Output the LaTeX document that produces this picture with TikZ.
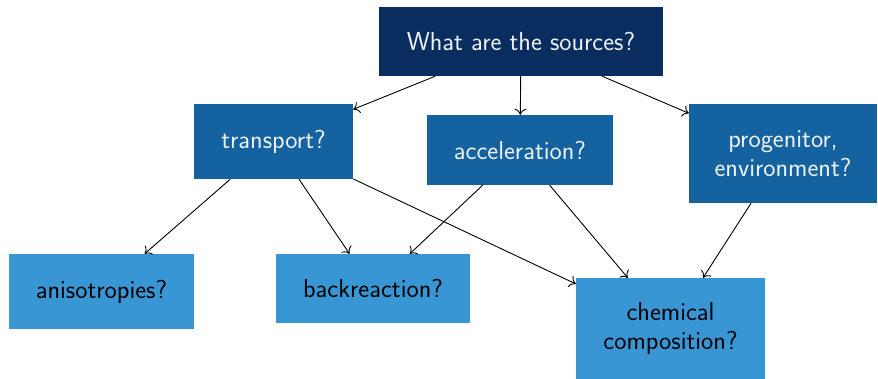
\documentclass[tikz,border=0pt]{standalone}
\usetikzlibrary{arrows.meta}
\definecolor{navy}{HTML}{082D5E}
\definecolor{midblue}{HTML}{1463A0}
\definecolor{lightblue}{HTML}{3896D4}
\definecolor{paletext}{HTML}{EEF2F6}
\begin{document}
\begin{tikzpicture}[x=1pt,y=-1pt,
  box/.style={rectangle,inner sep=0pt,align=center,font=\sffamily\fontsize{26}{29}\selectfont},
  topbox/.style={box,fill=navy,text=paletext},
  midbox/.style={box,fill=midblue,text=paletext},
  leafbox/.style={box,fill=lightblue,text=black},
  link/.style={-{Computer Modern Rightarrow[length=6pt,width=12pt]},line width=0.9pt,black}]
  \useasboundingbox (0,0) rectangle (878,379);
  \node[topbox,minimum width=284pt,minimum height=69pt] (src) at (521,41.5) {What are the sources?};
  \node[midbox,minimum width=159pt,minimum height=75pt] (tra) at (273.5,141.5) {transport?};
  \node[midbox,minimum width=186pt,minimum height=70pt] (acc) at (520,150) {acceleration?};
  \node[midbox,minimum width=188pt,minimum height=99pt] (pro) at (783,153.5) {progenitor,\\environment?};
  \node[leafbox,minimum width=185pt,minimum height=75pt] (ani) at (101.5,291.5) {anisotropies?};
  \node[leafbox,minimum width=194pt,minimum height=69pt] (bac) at (373,288.5) {backreaction?};
  \node[leafbox,minimum width=189pt,minimum height=101pt] (che) at (670.5,328.5) {chemical\\composition?};
  \draw[link] (src) -- (tra);
  \draw[link] (src) -- (acc);
  \draw[link] (src) -- (pro);
  \draw[link] (tra) -- (ani);
  \draw[link] (tra) -- (bac);
  \draw[link] (tra) -- (che);
  \draw[link] (acc) -- (bac);
  \draw[link] (acc) -- (che);
  \draw[link] (pro) -- (che);
\end{tikzpicture}
\end{document}
